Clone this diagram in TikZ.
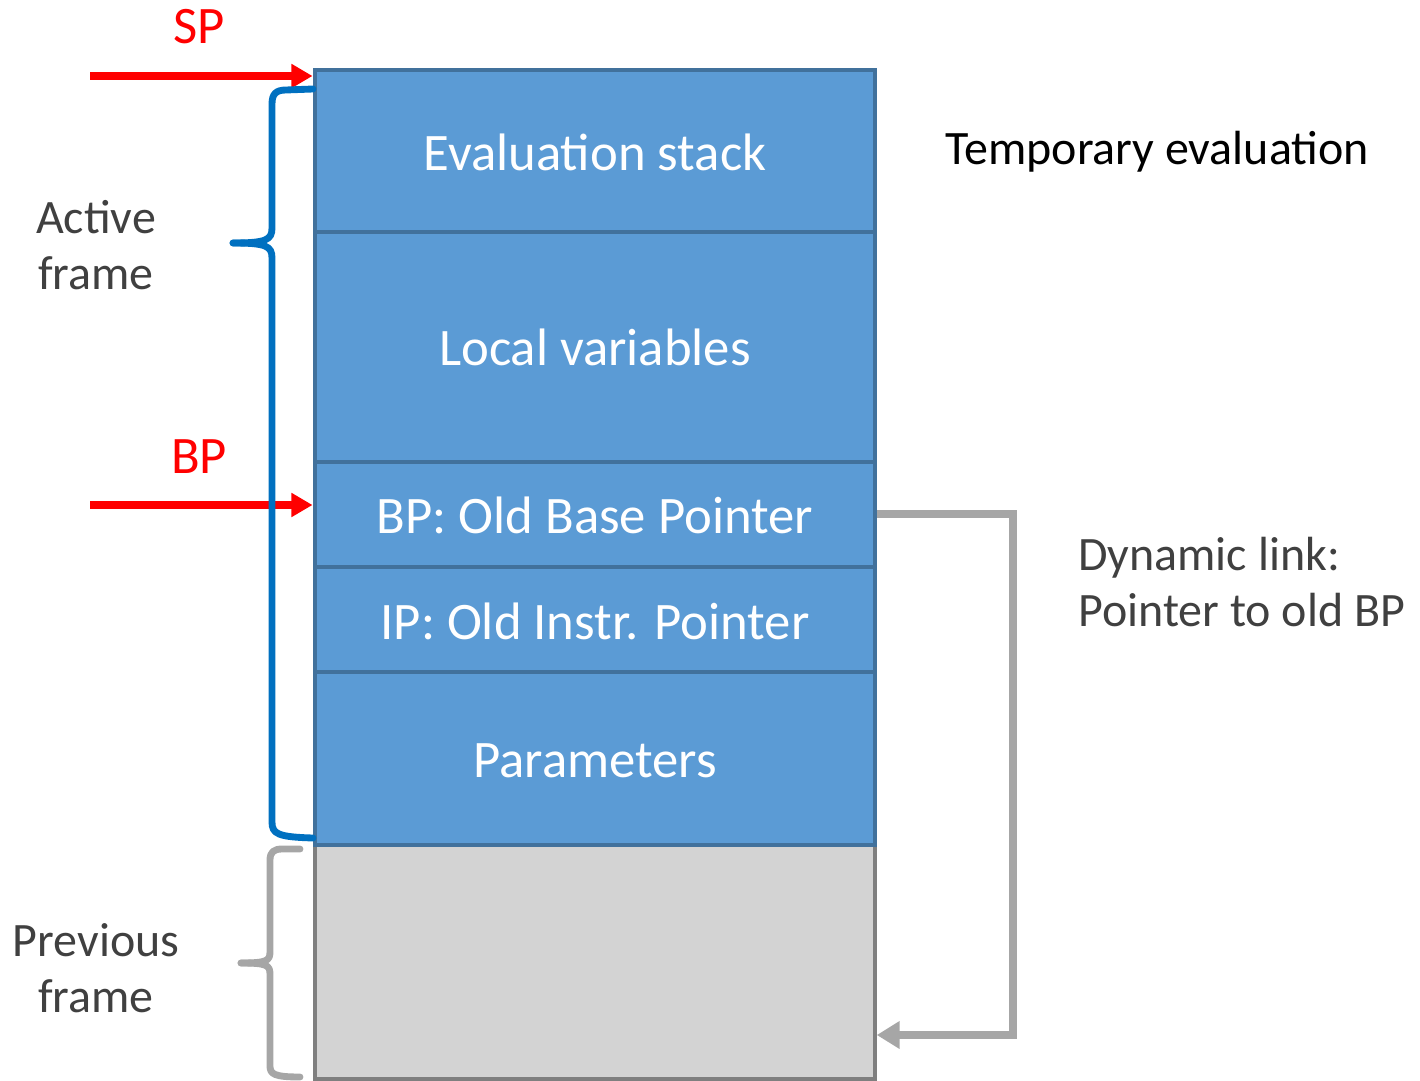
\documentclass[tikz,border=0pt]{standalone}
\usepackage{fontspec}
\setmainfont{Carlito}
\usetikzlibrary{arrows.meta,fit}
\definecolor{cellfill}{HTML}{5B9BD5}
\definecolor{celledge}{HTML}{41719C}
\definecolor{oldfill}{HTML}{D3D3D3}
\definecolor{oldedge}{HTML}{7F7F7F}
\definecolor{bracegray}{HTML}{A6A6A6}
\definecolor{bracebl}{HTML}{0070C0}
\definecolor{labelgray}{HTML}{404040}
\tikzset{
  cell/.style={draw=celledge, fill=cellfill, line width=2.8pt, inner sep=0pt},
  celltext/.style={text=white, font=\fontsize{30}{36}\selectfont},
  oldcell/.style={draw=oldedge, fill=oldfill, line width=2pt, inner sep=0pt},
  pointer/.style={draw=red, line width=4pt, -{Triangle[length=12pt,width=13pt]}},
  ptrlabel/.style={text=red, font=\fontsize{30}{36}\selectfont},
  sidelabel/.style={text=labelgray, align=center, font=\fontsize{27.3}{32}\selectfont},
  bluebrace/.style={draw=bracebl, line width=3.9pt, line cap=round, line join=round},
  graybrace/.style={draw=bracegray, line width=3.9pt, line cap=round, line join=round},
  link/.style={draw=bracegray, line width=4.2pt, -{Triangle[length=13pt,width=15pt]}},
}
\begin{document}
\begin{tikzpicture}[x=0.02cm, y=-0.02cm]
\useasboundingbox (0,0) rectangle (1420,1081);

% previous frame (grey) below the active frame
\node[oldcell, fit={(315,845)(875,1079)}] (prev) {};

% active frame cells
\node[cell, fit={(315,70)(875,232)}]  (eval)   {};
\node[cell, fit={(315,232)(875,462)}] (locals) {};
\node[cell, fit={(315,462)(875,567)}] (oldbp)  {};
\node[cell, fit={(315,567)(875,672)}] (oldip)  {};
\node[cell, fit={(315,672)(875,845)}] (params) {};
\node[celltext] (evaltxt)   at (595,152) {Evaluation stack};
\node[celltext] (localstxt) at (595,347) {Local variables};
\node[celltext] (oldbptxt)  at (595,515) {BP: Old Base Pointer};
\node[celltext] (oldiptxt)  at (595,621) {IP: Old Instr. Pointer};
\node[celltext] (paramstxt) at (595,761) {Parameters};

% stack and base pointer arrows
\coordinate (spstart) at (90,76);
\coordinate (bpstart) at (90,505);
\draw[pointer] (spstart) -- (spstart -| eval.west);
\draw[pointer] (bpstart) -- (bpstart -| oldbp.west);
\node[ptrlabel] (splbl) at (199,27) {SP};
\node[ptrlabel] (bplbl) at (199,457) {BP};

% brace around the active frame
\draw[bluebrace] (313,89) -- (286,90) .. controls (276,90) and (272,94) .. (272,104)
  -- (272,228) .. controls (272,240) and (266,243) .. (233,243);
\draw[bluebrace] (233,243) .. controls (266,243) and (272,246) .. (272,258)
  -- (272,822) .. controls (272,834) and (278,837) .. (313,838);
\node[sidelabel] (active) at (96,245) {Active\\frame};

% brace around the previous frame
\draw[graybrace] (300,849) -- (282,849) .. controls (274,849) and (270,852) .. (270,860)
  -- (270,952) .. controls (270,961) and (266,963) .. (241,963);
\draw[graybrace] (241,963) .. controls (266,963) and (270,965) .. (270,974)
  -- (270,1066) .. controls (270,1074) and (274,1077) .. (300,1077);
\node[sidelabel] (previous) at (96,968) {Previous\\frame};

% annotations
\node[font=\fontsize{27.3}{32}\selectfont] (tmp) at (1157,152) {Temporary evaluation};
\node[sidelabel, align=left, anchor=west] (dyn) at (1072,582) {Dynamic link:\\Pointer to old BP};

% dynamic link from the saved BP to the previous frame
\coordinate (bend1) at (1013,514);
\coordinate (bend2) at (1013,1035);
\draw[link] (oldbp.east |- bend1) -- (bend1) -- (bend2) -- (bend2 -| prev.east);
\end{tikzpicture}
\end{document}
